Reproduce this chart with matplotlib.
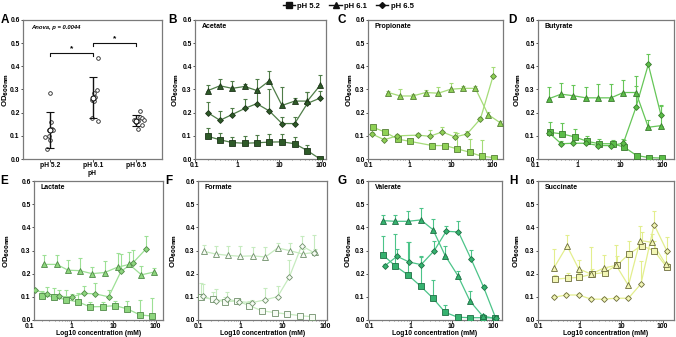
import matplotlib
matplotlib.use("Agg")
import matplotlib.pyplot as plt
from matplotlib.lines import Line2D
from matplotlib.ticker import LogLocator, FixedLocator, NullFormatter
import matplotlib.transforms as mtransforms
import numpy as np

plt.rcParams['font.family'] = ['Liberation Sans', 'DejaVu Sans']
plt.rcParams['font.weight'] = 'bold'

# ---------------- Panel A data ----------------
ph_labels = ["pH 5.2", "pH 6.1", "pH 6.5"]
a_ph52 = [0.283, 0.161, 0.125, 0.128, 0.125, 0.096, 0.098, 0.082, 0.043]
a_ph61 = [0.298, 0.437, 0.283, 0.268, 0.255, 0.250, 0.178, 0.164]
a_ph65 = [0.207, 0.183, 0.176, 0.166, 0.161, 0.168, 0.147, 0.130, 0.170]
a_means = [0.127, 0.265, 0.166]
a_sds = [0.078, 0.090, 0.025]
anova_text = "Anova, p = 0.0044"

# ---------------- Panel B: Acetate ----------------
acetate_conc = [0.2, 0.39, 0.76, 1.5, 2.9, 5.8, 11.5, 23, 46, 92]
acetate_ph52 = [0.098, 0.083, 0.071, 0.068, 0.070, 0.073, 0.074, 0.066, 0.036, 0.0]
acetate_ph52_err = [0.036, 0.029, 0.026, 0.032, 0.035, 0.036, 0.035, 0.031, 0.025, 0.0]
acetate_ph61 = [0.295, 0.316, 0.305, 0.313, 0.296, 0.338, 0.231, 0.250, 0.250, 0.318]
acetate_ph61_err = [0.025, 0.029, 0.033, 0.010, 0.049, 0.040, 0.081, 0.012, 0.040, 0.044]
acetate_ph65 = [0.200, 0.167, 0.192, 0.218, 0.239, 0.207, 0.153, 0.153, 0.240, 0.263]
acetate_ph65_err = [0.045, 0.040, 0.030, 0.040, 0.055, 0.097, 0.030, 0.030, 0.050, 0.030]

# ---------------- Panel C: Propionate ----------------
propionate_conc_52 = [0.132, 0.26, 0.52, 1.04, 3.56, 7.2, 14.2, 28.6, 55, 108]
propionate_ph52 = [0.137, 0.116, 0.086, 0.076, 0.058, 0.058, 0.044, 0.029, 0.012, 0.006]
propionate_ph52_err = [0.008, 0.008, 0.010, 0.008, 0.010, 0.010, 0.070, 0.056, 0.070, 0.008]
propionate_conc_61 = [0.31, 0.60, 1.20, 2.47, 4.97, 9.8, 19.8, 39, 79, 156]
propionate_ph61 = [0.287, 0.272, 0.272, 0.287, 0.284, 0.301, 0.305, 0.305, 0.192, 0.156]
propionate_ph61_err = [0.008, 0.028, 0.010, 0.010, 0.025, 0.025, 0.010, 0.008, 0.010, 0.008]
propionate_conc_65 = [0.125, 0.247, 0.50, 1.62, 3.1, 6.2, 12.5, 24.6, 51.6, 104]
propionate_ph65 = [0.108, 0.083, 0.100, 0.103, 0.098, 0.117, 0.095, 0.108, 0.173, 0.357]
propionate_ph65_err = [0.008, 0.008, 0.010, 0.008, 0.027, 0.020, 0.020, 0.015, 0.010, 0.040]

# ---------------- Panel D: Butyrate ----------------
butyrate_conc = [0.21, 0.40, 0.78, 1.56, 3.05, 6.1, 11.9, 23.8, 46.5, 93]
butyrate_conc_52 = [0.22, 0.43, 0.85, 1.67, 3.2, 6.6, 12.6, 24.5, 49, 100]
butyrate_ph52 = [0.115, 0.108, 0.095, 0.076, 0.066, 0.066, 0.051, 0.015, 0.006, 0.004]
butyrate_ph52_err = [0.044, 0.048, 0.035, 0.022, 0.020, 0.017, 0.032, 0.006, 0.004, 0.004]
butyrate_ph61 = [0.261, 0.280, 0.273, 0.264, 0.264, 0.264, 0.287, 0.287, 0.137, 0.144]
butyrate_ph61_err = [0.051, 0.050, 0.046, 0.045, 0.059, 0.059, 0.053, 0.070, 0.030, 0.087]
butyrate_ph65 = [0.112, 0.066, 0.068, 0.068, 0.058, 0.058, 0.068, 0.224, 0.408, 0.189]
butyrate_ph65_err = [0.010, 0.010, 0.010, 0.010, 0.010, 0.010, 0.018, 0.090, 0.046, 0.040]

# ---------------- Panel E: Lactate ----------------
lactate_conc_52 = [0.20, 0.38, 0.74, 1.47, 2.75, 5.6, 11, 21.4, 42.4, 83]
lactate_ph52 = [0.105, 0.100, 0.088, 0.078, 0.057, 0.058, 0.062, 0.048, 0.022, 0.017]
lactate_ph52_err = [0.020, 0.040, 0.040, 0.040, 0.020, 0.020, 0.020, 0.035, 0.065, 0.080]
lactate_conc_61 = [0.22, 0.45, 0.84, 1.6, 3.1, 6.2, 12.5, 23.8, 46, 92]
lactate_ph61 = [0.240, 0.240, 0.215, 0.213, 0.200, 0.205, 0.228, 0.240, 0.195, 0.207]
lactate_ph61_err = [0.039, 0.039, 0.044, 0.055, 0.030, 0.050, 0.060, 0.053, 0.038, 0.019]
lactate_conc_65 = [0.134, 0.26, 0.51, 1.02, 1.99, 3.7, 7.7, 15.1, 29.5, 58]
lactate_ph65 = [0.130, 0.113, 0.102, 0.100, 0.115, 0.113, 0.100, 0.210, 0.248, 0.305]
lactate_ph65_err = [0.005, 0.030, 0.028, 0.012, 0.030, 0.047, 0.030, 0.075, 0.055, 0.058]

# ---------------- Panel F: Formate ----------------
formate_conc_52 = [0.12, 0.22, 0.43, 0.84, 1.64, 3.2, 6.4, 12.6, 25, 49]
formate_ph52 = [0.098, 0.090, 0.079, 0.082, 0.062, 0.040, 0.032, 0.026, 0.019, 0.014]
formate_ph52_err = [0.060, 0.030, 0.020, 0.010, 0.020, 0.010, 0.005, 0.005, 0.005, 0.005]
formate_conc_61 = [0.14, 0.26, 0.51, 1.0, 1.96, 3.9, 7.6, 15, 29.4, 58]
formate_ph61 = [0.296, 0.285, 0.279, 0.275, 0.277, 0.272, 0.311, 0.299, 0.285, 0.292]
formate_ph61_err = [0.029, 0.033, 0.042, 0.043, 0.040, 0.042, 0.021, 0.035, 0.020, 0.015]
formate_conc_65 = [0.13, 0.26, 0.49, 0.95, 1.89, 3.8, 7.6, 14.2, 28, 56]
formate_ph65 = [0.104, 0.082, 0.090, 0.079, 0.075, 0.087, 0.101, 0.184, 0.321, 0.289]
formate_ph65_err = [0.050, 0.050, 0.033, 0.010, 0.010, 0.050, 0.045, 0.076, 0.040, 0.079]

# ---------------- Panel G: Valerate ----------------
valerate_conc = [0.21, 0.43, 0.86, 1.78, 3.5, 6.9, 14, 27.6, 56, 112]
valerate_conc_65 = [0.235, 0.47, 0.93, 1.81, 3.74, 7.3, 14.5, 29.4, 59, 115]
valerate_ph52 = [0.282, 0.233, 0.195, 0.145, 0.094, 0.033, 0.012, 0.010, 0.010, 0.009]
valerate_ph52_err = [0.082, 0.138, 0.142, 0.130, 0.077, 0.032, 0.004, 0.003, 0.003, 0.003]
valerate_ph61 = [0.429, 0.426, 0.426, 0.432, 0.390, 0.278, 0.192, 0.082, 0.017, 0.007]
valerate_ph61_err = [0.024, 0.029, 0.044, 0.052, 0.046, 0.040, 0.020, 0.044, 0.008, 0.003]
valerate_ph65 = [0.233, 0.275, 0.250, 0.239, 0.299, 0.383, 0.380, 0.263, 0.142, 0.010]
valerate_ph65_err = [0.010, 0.031, 0.085, 0.031, 0.041, 0.021, 0.046, 0.041, 0.010, 0.003]

# ---------------- Panel H: Succinate ----------------
succinate_conc_52 = [0.25, 0.52, 0.98, 1.98, 4.0, 7.85, 15.8, 31, 62, 125]
succinate_ph52 = [0.176, 0.181, 0.184, 0.198, 0.205, 0.236, 0.286, 0.321, 0.299, 0.228]
succinate_ph52_err = [0.020, 0.020, 0.020, 0.020, 0.020, 0.040, 0.057, 0.060, 0.040, 0.020]
succinate_conc_61 = [0.24, 0.50, 0.95, 1.9, 3.8, 7.6, 15, 28.6, 56.5, 118]
succinate_ph61 = [0.224, 0.320, 0.221, 0.198, 0.224, 0.236, 0.149, 0.343, 0.335, 0.241]
succinate_ph61_err = [0.084, 0.046, 0.040, 0.116, 0.056, 0.089, 0.150, 0.062, 0.035, 0.048]
succinate_conc_65 = [0.24, 0.48, 0.95, 1.9, 3.8, 7.6, 15, 30, 62, 125]
succinate_ph65 = [0.098, 0.108, 0.108, 0.090, 0.090, 0.094, 0.094, 0.156, 0.412, 0.299]
succinate_ph65_err = [0.010, 0.010, 0.010, 0.010, 0.010, 0.010, 0.010, 0.097, 0.058, 0.058]

legend_labels = ["pH 5.2", "pH 6.1", "pH 6.5"]
xlabel_text = "Log10 concentration (mM)"
ylabel_text = r'OD$_{\mathbf{600nm}}$'

# ---------------- layout / style ----------------
W, H = 676, 337
fig = plt.figure(figsize=(W / 100, H / 100), dpi=100)

def px_axes(l, t, r, b):
    return fig.add_axes([l / W, 1 - b / H, (r - l) / W, (b - t) / H])

def fig_text(x, y, s, **kw):
    return fig.text(x / W, 1 - y / H, s, **kw)

SPINE = '#7a7a7a'
TFS = 4.9

def style_axes(ax):
    for s in ax.spines.values():
        s.set_color(SPINE)
        s.set_linewidth(0.9)
    ax.tick_params(axis='both', which='major', direction='out', length=1.8,
                   width=0.6, color='#333333', labelsize=TFS, pad=0.6)
    ax.tick_params(axis='both', which='minor', direction='out', length=1.0,
                   width=0.4, color='#333333')
    for lab in ax.get_xticklabels() + ax.get_yticklabels():
        lab.set_fontweight('bold')

def ylab(xc, row):
    yc = 89.5 if row == 0 else 250.5
    fig_text(xc, yc, ylabel_text, rotation=90, ha='center', va='center',
             fontsize=5.6, fontweight='bold')

def letter(xc, yc, s):
    fig_text(xc, yc, s, ha='center', va='center', fontsize=8.5, fontweight='bold')

# ---- Panel A ----
axA = px_axes(23, 20, 162, 159)
jit1 = [-0.02, 0.02, -0.03, 0.03, 0.06, -0.13, -0.03, -0.01, -0.09]
jit2 = [0.08, 0.11, 0.02, 0.04, -0.04, 0.02, -0.04, 0.11]
jit3 = [0.09, 0.08, 0.13, 0.04, 0.0, -0.06, 0.13, 0.05, 0.17]
for i, (vals, jit) in enumerate([(a_ph52, jit1), (a_ph61, jit2), (a_ph65, jit3)]):
    xs = [i + 1 + j for j in jit]
    axA.plot(xs, vals, 'o', ms=2.6, mfc='white', mec='#222222', mew=0.6, zorder=3)
axA.errorbar([1, 2, 3], a_means, yerr=a_sds, fmt='o', ms=3.6, mfc='white', mec='#111111',
             mew=0.8, ecolor='#111111', elinewidth=1.0, capsize=3, capthick=1.0, zorder=4)
axA.set_xlim(0.36, 3.6)
axA.set_ylim(0, 0.6)
axA.set_yticks(np.arange(0, 0.61, 0.1))
axA.set_yticklabels(['%.1f' % v for v in np.arange(0, 0.61, 0.1)])
axA.set_xticks([1, 2, 3])
axA.set_xticklabels(ph_labels)
style_axes(axA)
ylab(6, 0)
fig_text(92, 169.8, 'pH', ha='center', va='top', fontsize=4.8, fontweight='bold')
axA.text(0.06, 0.945, anova_text, transform=axA.transAxes, fontsize=4.2,
         fontweight='bold', fontstyle='italic', va='center')
for (x1, x2, yb) in [(1, 2, 0.458), (2, 3, 0.502)]:
    axA.plot([x1, x1, x2, x2], [yb - 0.014, yb, yb, yb - 0.014], color='#111111', lw=0.8)
    axA.text((x1 + x2) / 2, yb + 0.004, '*', ha='center', va='bottom', fontsize=6, fontweight='bold')
letter(5, 20, 'A')

# ---- concentration panels ----
styles = {
    'B': dict(fill='#2e5a28', edge='#1c3318', line='#4f7d48'),
    'C': dict(fill='#8fd155', edge='#557f36', line='#a5dc78'),
    'D': dict(fill='#5bbd48', edge='#3a7a2e', line='#66c658'),
    'E': dict(fill='#8ed67e', edge='#4f8a47', line='#9de095'),
    'F': dict(fill='#f6fbf4', edge='#6f8f6a', line='#c6ebbf'),
    'G': dict(fill='#35b26f', edge='#1f6e44', line='#4cc489'),
    'H': dict(fill='#f2f6b5', edge='#6b6b3c', line='#e3ee8e'),
}

def draw_series(ax, x, y, err, marker, st, ms):
    ax.errorbar(x, y, yerr=[np.zeros(len(err)), err], fmt='none', ecolor=st['line'],
                elinewidth=0.8, capsize=1.5, capthick=0.8, zorder=2)
    ax.plot(x, y, '-', color=st['line'], lw=0.9, zorder=3)
    ax.plot(x, y, marker, ls='none', ms=ms, mfc=st['fill'], mec=st['edge'], mew=0.6, zorder=4)

# letter, axes box (l,t,r,b px), xlim, title, series, bottom row, ylabel x, letter x
panels = [
    ('B', (195, 20, 326, 159), (0.1, 127), 'Acetate',
     [(acetate_conc, acetate_ph52, acetate_ph52_err),
      (acetate_conc, acetate_ph61, acetate_ph61_err),
      (acetate_conc, acetate_ph65, acetate_ph65_err)], False, 176, 172),
    ('C', (368, 20, 503, 159), (0.1, 181), 'Propionate',
     [(propionate_conc_52, propionate_ph52, propionate_ph52_err),
      (propionate_conc_61, propionate_ph61, propionate_ph61_err),
      (propionate_conc_65, propionate_ph65, propionate_ph65_err)], False, 350, 342),
    ('D', (538, 20, 674, 159), (0.113, 189), 'Butyrate',
     [(butyrate_conc_52, butyrate_ph52, butyrate_ph52_err),
      (butyrate_conc, butyrate_ph61, butyrate_ph61_err),
      (butyrate_conc, butyrate_ph65, butyrate_ph65_err)], False, 518, 512),
    ('E', (34, 181, 163, 320), (0.13, 150), 'Lactate',
     [(lactate_conc_52, lactate_ph52, lactate_ph52_err),
      (lactate_conc_61, lactate_ph61, lactate_ph61_err),
      (lactate_conc_65, lactate_ph65, lactate_ph65_err)], True, 7, 4),
    ('F', (198, 181, 327, 320), (0.1, 111), 'Formate',
     [(formate_conc_52, formate_ph52, formate_ph52_err),
      (formate_conc_61, formate_ph61, formate_ph61_err),
      (formate_conc_65, formate_ph65, formate_ph65_err)], True, 174, 169),
    ('G', (368, 181, 502, 320), (0.093, 165), 'Valerate',
     [(valerate_conc, valerate_ph52, valerate_ph52_err),
      (valerate_conc, valerate_ph61, valerate_ph61_err),
      (valerate_conc_65, valerate_ph65, valerate_ph65_err)], True, 349, 342),
    ('H', (538, 181, 674, 320), (0.1, 187), 'Succinate',
     [(succinate_conc_52, succinate_ph52, succinate_ph52_err),
      (succinate_conc_61, succinate_ph61, succinate_ph61_err),
      (succinate_conc_65, succinate_ph65, succinate_ph65_err)], True, 517, 513),
]

markers = [('s', 3.8), ('^', 3.8), ('D', 3.0)]

for lt, box, xl, title, series, bottom, ylx, ltx in panels:
    ax = px_axes(*box)
    ax.set_xscale('log')
    st = styles[lt]
    for (x, y, e), (mk, ms) in zip(series, markers):
        draw_series(ax, x, y, e, mk, st, ms)
    ax.set_xlim(*xl)
    ax.set_ylim(0, 0.6)
    ax.set_yticks(np.arange(0, 0.61, 0.1))
    ax.set_yticklabels(['%.1f' % v for v in np.arange(0, 0.61, 0.1)])
    ax.xaxis.set_major_locator(FixedLocator([0.1, 1, 10, 100]))
    ax.set_xticklabels(['0.1', '1', '10', '100'])
    ax.xaxis.set_minor_locator(LogLocator(base=10, subs=np.arange(2, 10)))
    ax.xaxis.set_minor_formatter(NullFormatter())
    style_axes(ax)
    row = 1 if bottom else 0
    ylab(ylx, row)
    if xl[0] > 0.1:
        trans = mtransforms.blended_transform_factory(ax.transData, ax.transAxes)
        ax.annotate('0.1', xy=(0.1, 0), xycoords=trans, xytext=(0, -2.3),
                    textcoords='offset points', ha='center', va='top',
                    fontsize=TFS, fontweight='bold', annotation_clip=False)
    ax.text(0.05, 0.955, title, transform=ax.transAxes, fontsize=5.0,
            fontweight='bold', va='center', ha='left')
    if bottom:
        fig_text((box[0] + box[2]) / 2, 336.8, xlabel_text, ha='center', va='bottom',
                 fontsize=4.9, fontweight='bold')
    letter(ltx, box[1], lt)

# legend
handles = [Line2D([0], [0], color='#111111', lw=1.0, marker=m, ms=ms, mfc='#111111', mec='#111111')
           for m, ms in markers]
fig.legend(handles, legend_labels, loc='center', bbox_to_anchor=(0.515, 0.982), ncol=3,
           frameon=False, prop={'size': 5.5, 'weight': 'bold'}, handlelength=1.6,
           handletextpad=0.3, columnspacing=1.2, borderpad=0)

fig.savefig('out.png', dpi=100)
